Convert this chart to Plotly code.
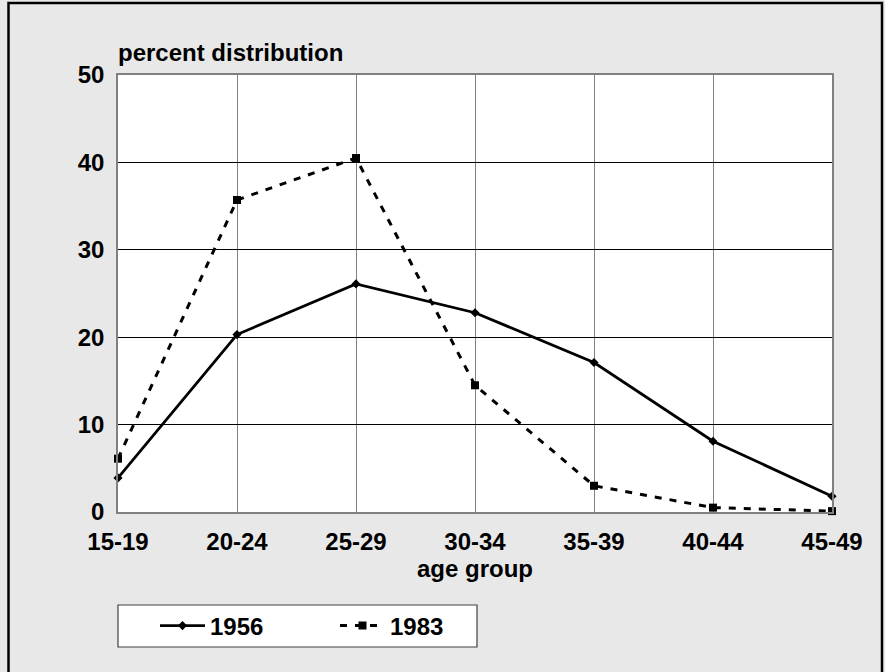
import plotly.graph_objects as go

age_groups = ["15-19", "20-24", "25-29", "30-34", "35-39", "40-44", "45-49"]
pct_1956 = [3.9, 20.3, 26.1, 22.8, 17.1, 8.1, 1.8]
pct_1983 = [6.1, 35.7, 40.5, 14.5, 3.0, 0.5, 0.1]
y_ticks = [0, 10, 20, 30, 40, 50]

FONT = "Liberation Sans, Arial, sans-serif"
FS = 24

# plot area in px
L, R, T, B = 118, 832, 75, 512
W, H = 885, 672
pw, ph = R - L, B - T

def px_x(x):
    return (x - L) / pw

def px_y(y):
    return (B - y) / ph

fig = go.Figure()
fig.add_trace(go.Scatter(
    x=age_groups, y=pct_1956, name="1956", mode="lines+markers",
    line=dict(color="black", width=2.8),
    marker=dict(symbol="diamond", size=7, color="black"),
    cliponaxis=False,
))
fig.add_trace(go.Scatter(
    x=age_groups, y=pct_1983, name="1983", mode="lines+markers",
    line=dict(color="black", width=3, dash="7px,8px"),
    marker=dict(symbol="square", size=8, color="black"),
    cliponaxis=False,
))

fig.update_layout(
    width=W, height=H,
    margin=dict(l=L, r=W - R, t=T, b=H - B, pad=0),
    paper_bgcolor="#e8e8e8",
    plot_bgcolor="white",
    font=dict(family=FONT, size=FS, color="black", weight="bold"),
    showlegend=True,
    legend=dict(
        orientation="h", x=px_x(155), y=px_y(626), xanchor="left", yanchor="middle",
        bgcolor="rgba(0,0,0,0)", borderwidth=0,
        font=dict(family=FONT, size=FS, color="black", weight="bold"),
        itemwidth=45, entrywidth=120, entrywidthmode="pixels",
    ),
    xaxis=dict(
        type="category", range=[0, len(age_groups) - 1],
        showgrid=True, gridcolor="#808080", gridwidth=1,
        showline=True, linecolor="#808080", linewidth=1.5, mirror=True,
        ticks="", ticklabelstandoff=7,
        tickfont=dict(family=FONT, size=FS, color="black", weight="bold"),
        zeroline=False,
    ),
    yaxis=dict(
        range=[0, 50], tickvals=y_ticks,
        showgrid=True, gridcolor="black", gridwidth=1,
        showline=True, linecolor="#808080", linewidth=1.5, mirror=True,
        ticks="", ticklabelstandoff=7,
        tickfont=dict(family=FONT, size=FS, color="black", weight="bold"),
        zeroline=False,
    ),
    shapes=[
        dict(type="rect", xref="paper", yref="paper",
             x0=px_x(8.5), x1=px_x(882), y0=px_y(700), y1=px_y(3),
             line=dict(color="black", width=2.5), fillcolor="rgba(0,0,0,0)", layer="below"),
        dict(type="rect", xref="paper", yref="paper",
             x0=px_x(118), x1=px_x(477), y0=px_y(647), y1=px_y(605),
             line=dict(color="#404040", width=1.2), fillcolor="white", layer="below"),
    ],
    annotations=[
        dict(text="percent distribution", xref="paper", yref="paper",
             x=px_x(116), y=px_y(53), xanchor="left", yanchor="middle",
             showarrow=False, font=dict(family=FONT, size=FS, color="black", weight="bold")),
        dict(text="age group", xref="paper", yref="paper",
             x=px_x(475), y=px_y(568), xanchor="center", yanchor="middle",
             showarrow=False, font=dict(family=FONT, size=FS, color="black", weight="bold")),
    ],
)

fig.write_html(
    "out.html",
    config={"displayModeBar": False},
    post_script="document.body.style.margin='0';document.body.style.overflow='hidden';",
)
